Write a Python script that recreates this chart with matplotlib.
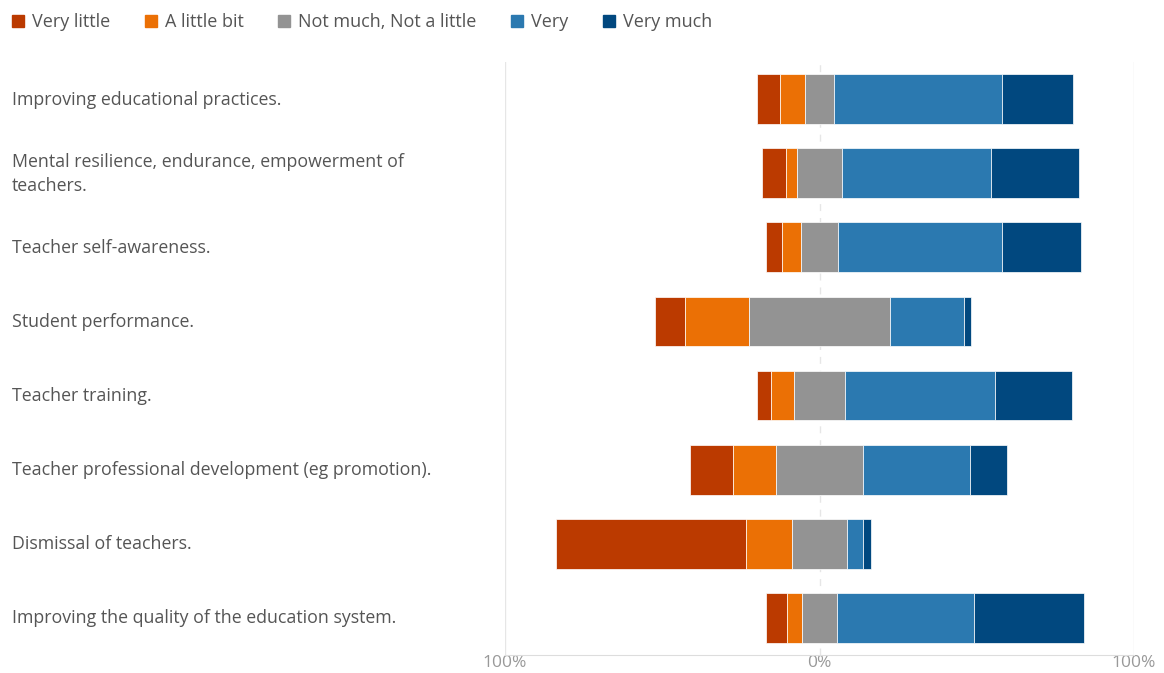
import numpy as np
import matplotlib.pyplot as plt
from matplotlib.patches import Patch

plt.rcParams['font.family'] = ['Open Sans', 'DejaVu Sans']

categories = [
    "Improving educational practices.",
    "Mental resilience, endurance, empowerment of\nteachers.",
    "Teacher self-awareness.",
    "Student performance.",
    "Teacher training.",
    "Teacher professional development (eg promotion).",
    "Dismissal of teachers.",
    "Improving the quality of the education system.",
]
levels = ["Very little", "A little bit", "Not much, Not a little", "Very", "Very much"]

# percentage of answers per level
very_little = [7.3, 7.6, 5.2, 9.5, 4.5, 13.7, 60.5, 6.7]
little_bit = [8.0, 3.7, 5.8, 20.6, 7.3, 13.7, 14.7, 4.6]
neutral = [9.2, 14.2, 12.0, 44.6, 16.3, 27.5, 17.3, 11.2]
very = [53.5, 47.3, 51.9, 23.5, 47.7, 34.1, 5.1, 43.6]
very_much = [22.4, 28.0, 25.4, 2.5, 24.5, 11.8, 2.5, 34.9]

colors = ["#bb3a00", "#eb7005", "#939393", "#2b79b0", "#01487f"]

W, H = 1164, 673
fig = plt.figure(figsize=(W / 100, H / 100), dpi=100)
ax = fig.add_axes([505 / W, 1 - 655 / H, 629 / W, 593 / H])

y = np.arange(len(categories))
series = [very_little, little_bit, neutral, very, very_much]
data = np.array(series)

# neutral block is centered on zero, the negative answers stack to its left
left = -(data[0] + data[1] + data[2] / 2)
for vals, c in zip(series, colors):
    ax.barh(y, vals, left=left, height=0.67, color=c, edgecolor='#ffffff',
            linewidth=0.5, zorder=3)
    left = left + np.array(vals)

ax.set_xlim(-100, 100)
ax.set_ylim(len(categories) - 0.5, -0.5)
ax.axvline(-100, color='#e6e6e6', lw=1, zorder=1)
ax.axvline(100, color='#e6e6e6', lw=1, zorder=1)
ax.axvline(0, color='#e6e6e6', lw=1, ls=(0, (5, 5)), zorder=1)

for s in ['top', 'right', 'left']:
    ax.spines[s].set_visible(False)
ax.spines['bottom'].set_color('#dddddd')
ax.set_xticks([-100, 0, 100])
ax.set_xticklabels(['100%', '0%', '100%'], color='#999999', fontsize=12.5)
ax.tick_params(axis='x', length=0, pad=0)
ax.set_yticks([])

# category names sit at the far left of the figure, level with each bar
for yi, name in zip(y, categories):
    fig.text(12 / W, 1 - (100 + 74 * yi) / H, name, fontsize=12.8,
             color='#555555', va='center', ha='left', linespacing=1.4)

handles = [Patch(color=c) for c in colors]
fig.legend(handles, levels, loc='center left', bbox_to_anchor=(12 / W, 1 - 22 / H),
           ncol=5, frameon=False, fontsize=13, handlelength=0.67, handleheight=0.67,
           handletextpad=0.45, columnspacing=1.9, borderpad=0, borderaxespad=0,
           labelcolor='#555555')

fig.savefig('out.png', dpi=100)
